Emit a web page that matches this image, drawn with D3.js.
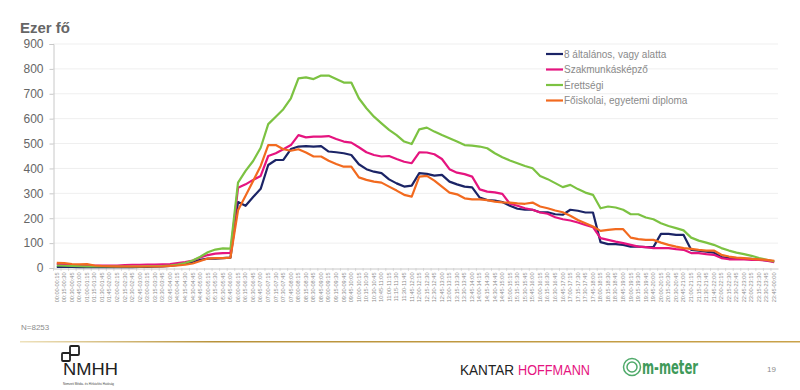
<!DOCTYPE html>
<html>
<head>
<meta charset="utf-8">
<script src="https://cdn.jsdelivr.net/npm/d3@7"></script>
<style>
  body { margin: 0; background: #fff; }
  svg { font-family: Arial, "Liberation Sans", sans-serif; }
</style>
</head>
<body>
<svg id="chart" width="800" height="390"></svg>
<script>
// 15 minute slots, 00:00-00:15 ... 23:45-00:00
var times = [];
for (var h = 0; h < 24; h++) {
  for (var m = 0; m < 60; m += 15) {
    var h2 = m == 45 ? (h + 1) % 24 : h;
    var m2 = (m + 15) % 60;
    times.push(d3.format("02")(h) + ":" + d3.format("02")(m) + "-" + d3.format("02")(h2) + ":" + d3.format("02")(m2));
  }
}

var seriesNames = ["8 általános, vagy alatta", "Szakmunkásképző", "Érettségi", "Főiskolai, egyetemi diploma"];
var seriesColors = ["#1b2466", "#e5147f", "#7cc242", "#f26a1f"];
var yTicks = [0, 100, 200, 300, 400, 500, 600, 700, 800, 900];

var altalanos = [4,4,4,3,3,3,3,3,3,3,3,4,4,5,6,8,12,17,24,33,38,38,40,42,
  265,250,285,318,414,434,434,478,488,490,488,490,468,465,461,454,417,397,387,381,356,340,327,331,
  381,378,371,374,347,336,327,324,283,273,271,265,250,238,234,234,224,224,216,214,234,230,223,223,
  104,96,96,93,86,86,84,84,137,137,133,133,73,70,66,62,44,40,37,37,37,35,30,26];
var szakmunkas = [16,15,13,12,10,10,10,10,10,12,13,13,14,14,15,16,20,24,30,42,52,58,60,61,
  322,336,354,370,450,461,477,494,534,525,528,528,530,518,508,504,485,465,454,448,450,438,427,421,
  465,464,457,438,397,383,377,367,316,307,304,298,258,250,240,234,223,218,204,196,191,183,173,164,
  120,113,106,100,93,86,84,80,80,80,76,73,60,60,56,53,40,35,35,35,33,33,29,23];
var erettsegi = [10,9,8,7,6,6,6,6,6,6,6,6,7,7,8,10,14,20,30,45,63,74,79,78,
  343,390,430,483,578,608,638,682,762,766,759,773,773,759,745,745,682,642,608,581,555,534,508,498,
  557,564,548,534,521,508,494,492,488,481,461,445,432,421,410,401,370,357,341,325,334,317,303,294,
  240,247,243,234,216,216,203,196,180,169,160,151,122,110,102,93,80,70,62,56,49,40,33,26];
var diploma = [21,20,16,15,16,10,8,7,6,6,6,6,6,6,6,8,10,13,18,28,38,40,40,42,
  232,290,350,410,494,494,477,471,477,464,448,448,431,418,407,407,364,354,347,343,327,311,294,287,
  367,370,351,327,303,296,280,276,276,273,267,264,263,260,258,263,247,240,231,224,210,193,180,167,
  149,153,156,156,122,116,113,113,102,93,86,80,77,73,70,70,53,46,42,40,37,35,33,29];

var allSeries = [altalanos, szakmunkas, erettsegi, diploma];

var svg = d3.select("#chart");

var x = d3.scaleBand().domain(times).range([53, 778]);
var y = d3.scaleLinear().domain([0, 900]).range([268, 44]);

// title
svg.append("text").attr("x", 20).attr("y", 33)
  .style("font-size", "15px").style("font-weight", "bold").style("fill", "#666")
  .text("Ezer fő");

// gridlines
svg.append("g").selectAll("line").data(yTicks.slice(1)).enter().append("line")
  .attr("x1", 53).attr("x2", 778)
  .attr("y1", function(d) { return y(d); }).attr("y2", function(d) { return y(d); })
  .style("stroke", "#efefef").style("stroke-width", 1);

// y axis
var yAxis = svg.append("g").attr("transform", "translate(53.5,0)")
  .call(d3.axisLeft(y).tickValues(yTicks).tickSize(4).tickPadding(6));
yAxis.select(".domain").style("stroke", "#c8c8c8");
yAxis.selectAll(".tick line").style("stroke", "#c8c8c8");
yAxis.selectAll("text").style("font-size", "12px").style("fill", "#666")
  .style("font-family", "Arial, 'Liberation Sans', sans-serif");

// x axis
var xAxis = svg.append("g").attr("transform", "translate(0,268.5)")
  .call(d3.axisBottom(x).tickSize(0));
xAxis.select(".domain").style("stroke", "#c8c8c8");
xAxis.selectAll(".tick text")
  .attr("transform", "rotate(-90)")
  .attr("x", -4).attr("y", 0).attr("dy", "0.32em")
  .style("text-anchor", "end")
  .style("font-size", "5.6px").style("fill", "#8c8c8c")
  .style("font-family", "Arial, 'Liberation Sans', sans-serif");
svg.append("g").selectAll("line").data(times).enter().append("line")
  .attr("x1", function(d) { return x(d) + 0.5; }).attr("x2", function(d) { return x(d) + 0.5; })
  .attr("y1", 268).attr("y2", 271)
  .style("stroke", "#c8c8c8").style("stroke-width", 0.6);

// lines
var line = d3.line()
  .x(function(d, i) { return x(times[i]) + x.bandwidth() / 2; })
  .y(function(d) { return y(d); });

svg.append("g").selectAll("path").data(allSeries).enter().append("path")
  .attr("d", function(d) { return line(d); })
  .style("fill", "none")
  .style("stroke", function(d, i) { return seriesColors[i]; })
  .style("stroke-width", 2.2)
  .style("stroke-linejoin", "round");

// legend
var legend = svg.append("g").selectAll("g").data(seriesNames).enter().append("g")
  .attr("transform", function(d, i) { return "translate(546," + (54 + i * 15.5) + ")"; });
legend.append("line").attr("x1", 0).attr("x2", 17).attr("y1", 0).attr("y2", 0)
  .style("stroke", function(d, i) { return seriesColors[i]; }).style("stroke-width", 2.2);
legend.append("text").attr("x", 18).attr("y", 0).attr("dy", "0.35em")
  .style("font-size", "10px").style("fill", "#8a8a8a")
  .text(function(d) { return d; });

// footer
svg.append("text").attr("x", 21).attr("y", 330)
  .style("font-size", "8px").style("fill", "#8c8c8c").text("N=8253");

var grad = svg.append("defs").append("linearGradient").attr("id", "rule");
grad.append("stop").attr("offset", "0%").attr("stop-color", "#eee2bd");
grad.append("stop").attr("offset", "25%").attr("stop-color", "#b8923a");
grad.append("stop").attr("offset", "100%").attr("stop-color", "#c9a24a");
svg.append("rect").attr("x", 20).attr("y", 341).attr("width", 780).attr("height", 1.5)
  .style("fill", "url(#rule)");

// NMHH logo
var nm = svg.append("g").attr("transform", "translate(60,346)");
nm.append("rect").attr("x", 2).attr("y", 7).attr("width", 8).attr("height", 8).attr("rx", 1)
  .style("fill", "none").style("stroke", "#222").style("stroke-width", 1.8);
nm.append("rect").attr("x", 10).attr("y", 0).attr("width", 9).attr("height", 9).attr("rx", 1)
  .style("fill", "none").style("stroke", "#222").style("stroke-width", 1.8);
nm.append("text").attr("x", 3).attr("y", 29)
  .attr("textLength", 55).attr("lengthAdjust", "spacingAndGlyphs")
  .style("font-size", "16px").style("fill", "#222").text("NMHH");
nm.append("text").attr("x", 3).attr("y", 39)
  .style("font-size", "3px").style("fill", "#444").text("Nemzeti Média- és Hírközlési Hatóság");

// Kantar Hoffmann
svg.append("text").attr("x", 460).attr("y", 375).style("font-size", "15px")
  .attr("textLength", 54).attr("lengthAdjust", "spacingAndGlyphs")
  .style("fill", "#222").text("KANTAR");
svg.append("text").attr("x", 518).attr("y", 375).style("font-size", "15px")
  .attr("textLength", 72).attr("lengthAdjust", "spacingAndGlyphs")
  .style("fill", "#e5147f").text("HOFFMANN");

// m-meter
var mm = svg.append("g").attr("transform", "translate(632,367)");
mm.append("circle").attr("r", 8.5).style("fill", "none").style("stroke", "#4faa6a").style("stroke-width", 1.5);
mm.append("circle").attr("r", 5).style("fill", "none").style("stroke", "#4faa6a").style("stroke-width", 1.5);
mm.append("text").attr("x", 10).attr("y", 7)
  .attr("textLength", 56).attr("lengthAdjust", "spacingAndGlyphs")
  .style("font-size", "20px").style("font-weight", "bold").style("fill", "#3f9a5a")
  .style("font-family", "'DejaVu Sans Condensed', 'Liberation Sans Narrow', sans-serif")
  .text("m-meter");

svg.append("text").attr("x", 767).attr("y", 372)
  .style("font-size", "8px").style("fill", "#8c8c8c").text("19");
</script>
</body>
</html>
